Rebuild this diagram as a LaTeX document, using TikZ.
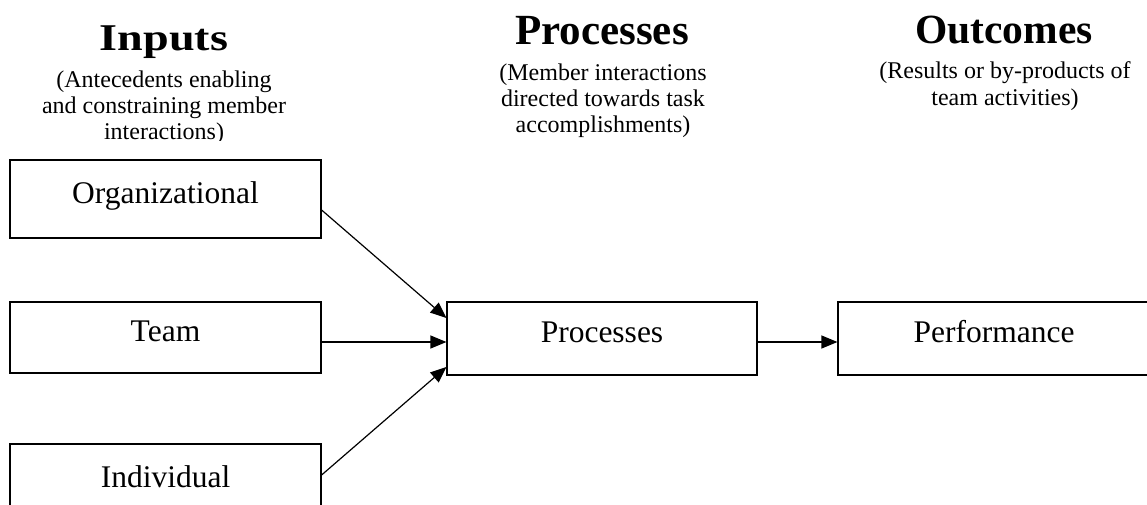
\documentclass[tikz,border=0pt]{standalone}
\usepackage{fontspec}
\setmainfont{Liberation Serif}
\usetikzlibrary{arrows.meta}
\begin{document}
\begin{tikzpicture}[x=1pt,y=-1pt,
  boxnode/.style={draw, line width=1.2pt, minimum width=311pt, inner sep=0pt,
    font=\fontsize{31.5}{36}\selectfont, text height=22pt, text depth=14pt},
  head/.style={anchor=base, inner sep=0pt, font=\fontsize{43}{48}\selectfont\bfseries},
  sub/.style={anchor=base, inner sep=0pt, align=center, font=\fontsize{24}{26.2}\selectfont},
  conn/.style={line width=1.2pt, -{Triangle[length=16pt,width=13pt]}}]
\useasboundingbox[fill=white] (0,0) rectangle (1147,504);
% headings
\node[head] (hin) at (164,50) {\scalebox{1.22}[1]{\fontsize{37.8}{42}\selectfont Inputs}};
\node[head] (hpr) at (602,44) {Processes};
\node[head, font=\fontsize{41.5}{46}\selectfont\bfseries] (hout) at (1004,43) {Outcomes};
\begin{scope}
\clip (0,0) rectangle (400,140);
\node[sub] (sin) at (164,139.5) {(Antecedents enabling\\and constraining member\\interactions)};
\end{scope}
\node[sub] (spr) at (603,132.5) {(Member interactions\\directed towards task\\accomplishments)};
\node[sub] (sout) at (1005,105) {(Results or by-products of\\team activities)};
% boxes
\node[boxnode, minimum height=78pt] (org) at (165.5,199) {Organizational};
\node[boxnode, minimum height=71pt] (team) at (165.5,337.5) {Team};
\node[boxnode, minimum height=78pt] (ind) at (165.5,483) {Individual};
\node[boxnode, minimum width=310pt, minimum height=73pt] (proc) at (602,338.5) {Processes};
\node[boxnode, minimum width=312pt, minimum height=73pt] (perf) at (994,338.5) {Performance};
% connectors
\draw[conn] (org.east |- 0,210) -- (proc.west |- 0,318);
\draw[conn] (team.east |- 0,342) -- (proc.west |- 0,342);
\draw[conn] (ind.east |- 0,475) -- (proc.west |- 0,367);
\draw[conn] (proc.east |- 0,342) -- (perf.west |- 0,342);
\end{tikzpicture}
\end{document}
